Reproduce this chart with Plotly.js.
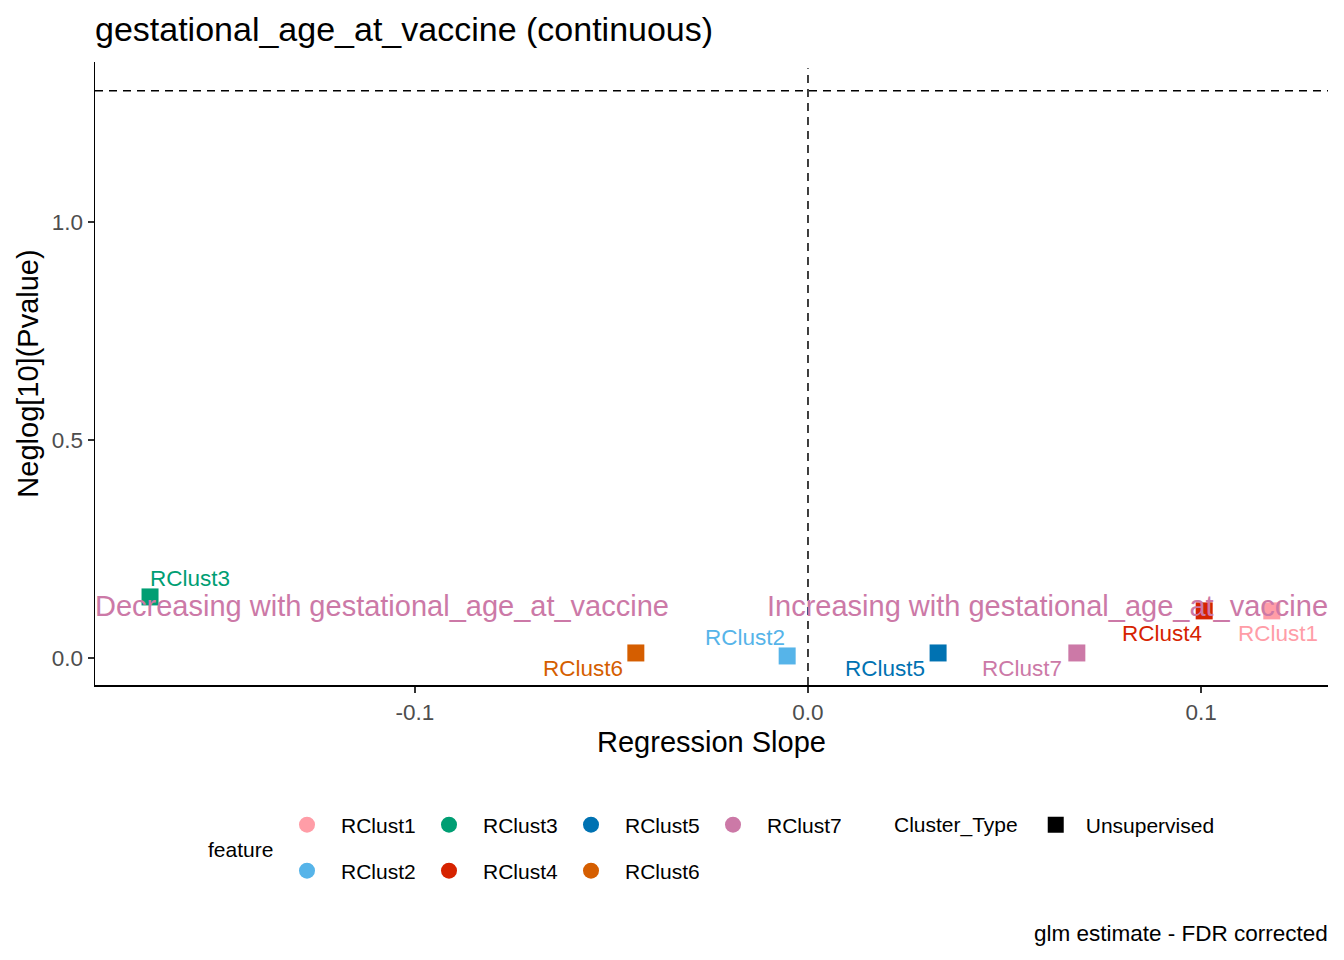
<!DOCTYPE html>
<html>
<head>
<meta charset="utf-8">
<script src="https://cdn.plot.ly/plotly-3.0.1.min.js"></script>
<style>html,body{margin:0;padding:0;background:#fff;}#chart{width:1344px;height:960px;}</style>
</head>
<body>
<div id="chart"></div>
<script>
// ---- data ----
const features = ["RClust1","RClust2","RClust3","RClust4","RClust5","RClust6","RClust7"];
const slopes   = [0.118, -0.0053, -0.1674, 0.1008, 0.0331, -0.0438, 0.0684];
const negLogP  = [0.108, 0.0046, 0.140, 0.108, 0.0115, 0.0115, 0.0115];
const featureColors = ["#FF9DA7","#56B4E9","#009E73","#D62300","#0072B2","#D55E00","#CC79A7"];
const xTicks = [-0.1, 0.0, 0.1];
const xTickLabels = ["-0.1","0.0","0.1"];
const yTicks = [0.0, 0.5, 1.0];
const yTickLabels = ["0.0","0.5","1.0"];
const sigThreshold = 1.30103; // -log10(0.05)
const dirLabels = ["Decreasing with gestational_age_at_vaccine","Increasing with gestational_age_at_vaccine"];
const dirLabelY = 0.119;
// label offsets (px) for repel-style point labels
const labelShift = {
  RClust1:[6,-23], RClust2:[-42,18], RClust3:[40,18], RClust4:[-42,-23],
  RClust5:[-53,-16], RClust6:[-53,-16], RClust7:[-55,-16]
};
const legendRow1 = ["RClust1","RClust3","RClust5","RClust7"];
const legendRow2 = ["RClust2","RClust4","RClust6"];

const FONT = "Liberation Sans, Arial, sans-serif";
const xRange = [-0.1814, 0.1323];
const yRange = [-0.062, 1.367];

const L=95, R=16, T=62, B=275, W=1344, H=960;
const pw=W-L-R, ph=H-T-B;
function px2paperX(px){return (px-L)/pw;}
function px2paperY(py){return (H-B-py)/ph;}

const traces = [];
features.forEach((f,i)=>{
  traces.push({
    type:"scatter", mode:"markers", x:[slopes[i]], y:[negLogP[i]],
    marker:{symbol:"square", size:17, color:featureColors[i]},
    showlegend:false, hoverinfo:"skip", cliponaxis:false
  });
});
features.forEach((f,i)=>{
  const inRow1 = legendRow1.includes(f);
  const order = (inRow1 ? legendRow1 : legendRow2).indexOf(f);
  traces.push({
    type:"scatter", mode:"markers", x:[null], y:[null], name:f,
    marker:{symbol:"circle", size:19, color:featureColors[i]},
    legend: inRow1 ? "legend" : "legend2", legendrank:order+1, showlegend:true
  });
});
traces.push({
  type:"scatter", mode:"markers", x:[null], y:[null], name:"Unsupervised",
  marker:{symbol:"square", size:17, color:"#000000"},
  legend:"legend3", showlegend:true
});

const annotations = [];
features.forEach((f,i)=>{
  annotations.push({
    x:slopes[i], y:negLogP[i], xref:"x", yref:"y", text:f, showarrow:false,
    xshift:labelShift[f][0], yshift:labelShift[f][1],
    font:{family:FONT, size:22.5, color:featureColors[i]}
  });
});
annotations.push({
  x:xRange[0], y:dirLabelY, xref:"x", yref:"y", text:dirLabels[0], showarrow:false,
  xanchor:"left", yanchor:"middle", xshift:-2, font:{family:FONT, size:29, color:"#CC79A7"}
});
annotations.push({
  x:xRange[1], y:dirLabelY, xref:"x", yref:"y", text:dirLabels[1], showarrow:false,
  xanchor:"right", yanchor:"middle", xshift:2, font:{family:FONT, size:29, color:"#CC79A7"}
});
annotations.push({
  x:px2paperX(240), y:px2paperY(849), xref:"paper", yref:"paper", xanchor:"center", yanchor:"middle",
  text:"feature", showarrow:false, font:{family:FONT, size:21, color:"#000"}
});
annotations.push({
  x:px2paperX(1330), y:px2paperY(933), xref:"paper", yref:"paper", xanchor:"right", yanchor:"middle",
  text:"glm estimate - FDR corrected", showarrow:false, font:{family:FONT, size:22.5, color:"#000"}
});

const legendCommon = {
  orientation:"h", bgcolor:"rgba(0,0,0,0)", font:{family:FONT, size:21, color:"#000"},
  itemsizing:"trace", xanchor:"left", yanchor:"middle", entrywidth:69, entrywidthmode:"pixels",
  tracegroupgap:0, itemwidth:58
};

const layout = {
  width:W, height:H,
  margin:{l:L, r:R, t:T, b:B},
  paper_bgcolor:"#fff", plot_bgcolor:"#fff",
  title:{text:"gestational_age_at_vaccine (continuous)", x:0, xanchor:"left", xref:"paper",
         y:1-29/H, yanchor:"middle", yref:"container", font:{family:FONT, size:34, color:"#000"}},
  xaxis:{range:xRange, tickvals:xTicks, ticktext:xTickLabels, showgrid:false, zeroline:false,
         showline:true, linecolor:"#000", linewidth:1.5, ticks:"outside", ticklen:6, tickwidth:1.5, tickcolor:"#333",
         tickfont:{family:FONT, size:22.5, color:"#4D4D4D"},
         title:{text:"Regression Slope", font:{family:FONT, size:29, color:"#000"}, standoff:8}},
  yaxis:{range:yRange, tickvals:yTicks, ticktext:yTickLabels, showgrid:false, zeroline:false,
         showline:true, linecolor:"#000", linewidth:1.5, ticks:"outside", ticklen:6, tickwidth:1.5, tickcolor:"#333",
         tickfont:{family:FONT, size:22.5, color:"#4D4D4D"},
         title:{text:"Neglog[10](Pvalue)", font:{family:FONT, size:29, color:"#000"}, standoff:4}},
  shapes:[
    {type:"line", xref:"paper", x0:0, x1:1, yref:"y", y0:sigThreshold, y1:sigThreshold,
     line:{color:"#000", width:1.5, dash:"8px,6px"}},
    {type:"line", xref:"x", x0:0, x1:0, yref:"paper", y0:0, y1:0.99,
     line:{color:"#000", width:1.5, dash:"8px,6px"}}
  ],
  annotations:annotations,
  showlegend:true,
  legend:Object.assign({}, legendCommon, {x:px2paperX(273), y:px2paperY(825)}),
  legend2:Object.assign({}, legendCommon, {x:px2paperX(273), y:px2paperY(871)}),
  legend3:Object.assign({}, legendCommon, {x:px2paperX(892), y:px2paperY(825), itemwidth:50,
     title:{text:"Cluster_Type", side:"left", font:{family:FONT, size:21, color:"#000"}}, entrywidth:140})
};

Plotly.newPlot("chart", traces, layout, {displayModeBar:false, staticPlot:true});
</script>
</body>
</html>
